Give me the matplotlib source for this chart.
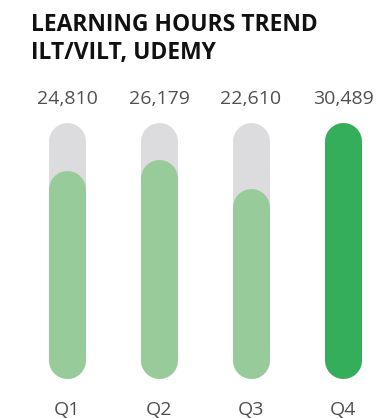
import matplotlib
matplotlib.use("Agg")
import matplotlib.pyplot as plt

quarters = ["Q1", "Q2", "Q3", "Q4"]
hours = [24810, 26179, 22610, 30489]
fill_colors = ["#98cb9a", "#98cb9a", "#98cb9a", "#34ae5a"]
track_color = "#dcdcde"

plt.rcParams["font.family"] = ["Open Sans", "DejaVu Sans"]

W, H = 377, 419
fig = plt.figure(figsize=(W / 100, H / 100), dpi=100)

# axes span the full width; bars sit between y=123px and y=378px from the top
ax_bottom, ax_top = 378, 123
ax = fig.add_axes([0, (H - ax_bottom) / H, 1, (ax_bottom - ax_top) / H])
spacing = 92
x0 = 67
ax.set_xlim(-x0 / spacing, (W - x0) / spacing)
top = max(hours)
ax.set_ylim(0, top)
ax.axis("off")

bar_px = 37
lw = bar_px * 72 / 100
# round caps stick out by half the bar width, so shorten the line by that much
r = (bar_px / 2) * top / (ax_bottom - ax_top)

def capsule(x, h, color):
    ax.plot([x, x], [r, h - r], color=color, lw=lw,
            solid_capstyle="round", clip_on=False)

for i, (q, v) in enumerate(zip(quarters, hours)):
    capsule(i, top, track_color)
    capsule(i, v, fill_colors[i])
    ax.text(i, 1 + (ax_top - 99) / (ax_bottom - ax_top), f"{v:,}",
            transform=ax.get_xaxis_transform(),
            ha="center", va="center", fontsize=14, color="#505050")
    ax.text(i, -(410 - ax_bottom) / (ax_bottom - ax_top), q,
            transform=ax.get_xaxis_transform(),
            ha="center", va="center", fontsize=14, color="#505050")

fig.text(31 / W, 1 - 13 / H, "LEARNING HOURS TREND\nILT/VILT, UDEMY",
         ha="left", va="top", fontsize=16.5, fontweight="bold",
         color="#111111", linespacing=1.25)

fig.savefig("out.png", dpi=100)
